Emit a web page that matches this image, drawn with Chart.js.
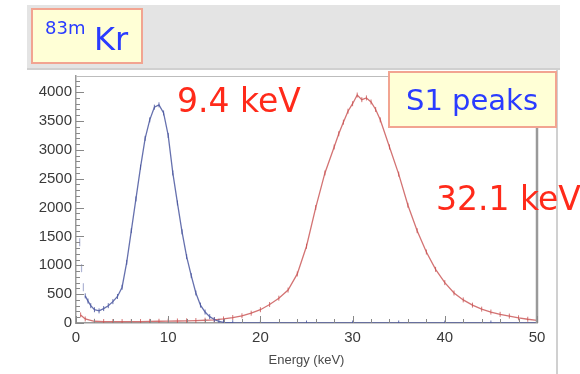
<!DOCTYPE html>
<html>
<head>
<meta charset="utf-8">
<script src="https://cdn.jsdelivr.net/npm/chart.js@4.4.0/dist/chart.umd.min.js"></script>
<style>
html,body{margin:0;padding:0;background:#fff;}
</style>
</head>
<body>
<canvas id="myChart" width="580" height="374"></canvas>
<script>
// 9.4 keV peak (blue)
var blueEnergy = [1.0,1.3,1.6,2.0,2.5,3.0,3.5,4.0,4.5,5.0,5.5,6.0,6.5,7.0,7.5,8.0,8.5,9.0,9.5,10.0,10.5,11.0,11.5,12.0,12.5,13.0,13.5,14.0,14.5,15.0,15.5,16.0,17,20,25,30,35,40,45,50];
var blueCounts = [470,380,300,230,210,250,300,370,460,620,1050,1600,2150,2700,3200,3520,3740,3780,3640,3250,2600,2080,1580,1150,820,520,310,190,110,60,30,12,5,0,0,0,0,0,0,0];
// first bins near threshold (faint error bars only)
var blueLowEnergy = [0.4,0.6,0.8];
var blueLowCounts = [1400,950,620];

// 32.1 keV peak (red)
var redEnergy = [0.5,1,2,3,4,5,6,7,8,9,10,11,12,13,14,15,16,17,18,19,20,21,22,23,24,25,26,27,28,28.5,29,29.5,30,30.5,31,31.5,32,32.5,33,34,35,36,37,38,39,40,41,42,43,44,45,46,47,48,49,50];
var redCounts = [140,70,30,25,25,25,25,25,28,30,32,35,38,42,48,55,70,95,125,170,230,320,430,570,850,1330,2000,2600,3050,3280,3480,3670,3800,3950,3870,3900,3830,3700,3520,3050,2580,2040,1600,1230,930,700,520,400,310,240,190,150,120,90,65,45];

var xTicksMajor = [0,10,20,30,40,50];
var yTicksMajor = [0,500,1000,1500,2000,2500,3000,3500,4000];

function toPoints(xs, ys) {
  var pts = [];
  for (var i = 0; i < xs.length; i++) pts.push({x: xs[i], y: ys[i]});
  return pts;
}

function drawBox(ctx, x, y, w, h) {
  ctx.fillStyle = '#ffffd6';
  ctx.fillRect(x, y, w, h);
  ctx.strokeStyle = '#f2a491';
  ctx.lineWidth = 2;
  ctx.strokeRect(x, y, w, h);
}

var decor = {
  id: 'decor',
  beforeDraw: function(chart) {
    var ctx = chart.ctx;
    ctx.save();
    ctx.fillStyle = '#e4e4e4';
    ctx.fillRect(27, 5, 533, 63);
    ctx.fillStyle = '#d0d0d0';
    ctx.fillRect(27, 68, 533, 2);
    ctx.fillRect(556, 70, 2, 304);
    ctx.restore();
  },
  afterDraw: function(chart) {
    var ctx = chart.ctx;
    var xs = chart.scales.x, ys = chart.scales.y;
    var a = chart.chartArea;
    ctx.save();
    // frame top / right
    ctx.strokeStyle = '#bdbdbd';
    ctx.lineWidth = 1;
    ctx.beginPath();
    ctx.moveTo(a.left, a.top + 0.5);
    ctx.lineTo(a.right, a.top + 0.5);
    ctx.stroke();
    ctx.strokeStyle = '#9a9a9a';
    ctx.lineWidth = 2.5;
    ctx.beginPath();
    ctx.moveTo(a.right, a.top);
    ctx.lineTo(a.right, a.bottom);
    ctx.stroke();
    // inward ticks
    ctx.strokeStyle = '#888';
    ctx.lineWidth = 1;
    ctx.beginPath();
    for (var v = 0; v <= 50; v += 2) {
      var px = Math.round(xs.getPixelForValue(v)) + 0.5;
      var len = xTicksMajor.indexOf(v) >= 0 ? 7 : 4;
      ctx.moveTo(px, a.bottom);
      ctx.lineTo(px, a.bottom - len);
    }
    for (var w = 0; w <= 4200; w += 100) {
      var py = Math.round(ys.getPixelForValue(w)) + 0.5;
      var l2 = yTicksMajor.indexOf(w) >= 0 ? 8 : 4;
      ctx.moveTo(a.left, py);
      ctx.lineTo(a.left + l2, py);
    }
    ctx.stroke();

    // 83mKr box
    drawBox(ctx, 32, 9, 110, 54);
    ctx.fillStyle = '#2a3cff';
    ctx.textBaseline = 'alphabetic';
    ctx.textAlign = 'left';
    ctx.font = '18px "DejaVu Sans"';
    ctx.fillText('83m', 45, 34);
    ctx.font = '32px "DejaVu Sans"';
    ctx.fillText('Kr', 94, 50);

    // S1 peaks box
    drawBox(ctx, 389, 72, 167, 55);
    ctx.fillStyle = '#2a3cff';
    ctx.font = '29px "DejaVu Sans"';
    ctx.textAlign = 'center';
    ctx.fillText('S1 peaks', 472, 110);

    // peak labels
    ctx.fillStyle = '#ff2a1a';
    ctx.textAlign = 'left';
    ctx.font = '33px "DejaVu Sans"';
    ctx.fillText('9.4 keV', 177, 112);
    ctx.fillText('32.1 keV', 436, 210);
    ctx.restore();
  }
};

var config = {
  type: 'line',
  data: {
    datasets: [{
      label: '9.4 keV',
      data: toPoints(blueEnergy, blueCounts),
      borderColor: 'rgba(75,88,160,0.85)',
      backgroundColor: 'rgba(75,88,160,0.85)',
      borderWidth: 1.3,
      pointStyle: 'line',
      pointRotation: 90,
      pointRadius: 2.5,
      pointBorderWidth: 1,
      tension: 0
    }, {
      label: '9.4 keV low bins',
      data: toPoints(blueLowEnergy, blueLowCounts),
      showLine: false,
      borderColor: 'rgba(75,88,160,0.45)',
      backgroundColor: 'rgba(75,88,160,0.45)',
      pointStyle: 'line',
      pointRotation: 90,
      pointRadius: 4,
      pointBorderWidth: 1.2
    }, {
      label: '32.1 keV',
      data: toPoints(redEnergy, redCounts),
      borderColor: 'rgba(200,80,80,0.8)',
      backgroundColor: 'rgba(200,80,80,0.8)',
      borderWidth: 1.3,
      pointStyle: 'line',
      pointRotation: 90,
      pointRadius: 2.5,
      pointBorderWidth: 1,
      tension: 0
    }]
  },
  options: {
    responsive: false,
    animation: false,
    devicePixelRatio: 1,
    layout: { padding: { top: 76, right: 43, left: 0, bottom: 0 } },
    plugins: { legend: { display: false }, tooltip: { enabled: false } },
    scales: {
      x: {
        type: 'linear',
        min: 0,
        max: 50,
        afterFit: function(s) { s.height = 51; },
        afterBuildTicks: function(s) { s.ticks = xTicksMajor.map(function(v) { return {value: v}; }); },
        grid: { display: false, drawTicks: false },
        border: { display: true, color: '#9a9a9a', width: 1.5 },
        ticks: {
          padding: 6,
          color: '#3a3a3a',
          font: { family: 'Liberation Sans', size: 15 },
          callback: function(val) { return String(val); }
        },
        title: {
          display: true,
          text: 'Energy (keV)',
          color: '#4a4a4a',
          font: { family: 'Liberation Sans', size: 13 },
          padding: { top: 0, bottom: 6 }
        }
      },
      y: {
        min: 0,
        max: 4280,
        afterFit: function(s) { s.width = 76; },
        afterBuildTicks: function(s) { s.ticks = yTicksMajor.map(function(v) { return {value: v}; }); },
        grid: { display: false, drawTicks: false },
        border: { display: true, color: '#9a9a9a', width: 1.5 },
        ticks: {
          padding: 4,
          color: '#3a3a3a',
          font: { family: 'Liberation Sans', size: 15 },
          callback: function(val) { return String(val); }
        }
      }
    }
  },
  plugins: [decor]
};

var myChart = new Chart(document.getElementById('myChart'), config);
</script>
</body>
</html>
